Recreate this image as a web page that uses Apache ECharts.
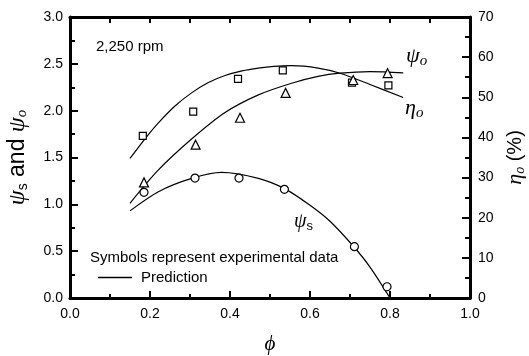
<!DOCTYPE html>
<html>
<head>
<meta charset="utf-8">
<script src="https://cdn.jsdelivr.net/npm/echarts@6/dist/echarts.min.js"></script>
<style>
  html, body { margin: 0; padding: 0; background: #fff; }
  #chart { width: 529px; height: 356px; }
</style>
</head>
<body>
<div id="chart"></div>
<script>
// predicted curves (phi, value)
const psiOPredPhi = [0.15, 0.1875, 0.221, 0.2625, 0.304, 0.346, 0.3875, 0.43, 0.471, 0.51, 0.554, 0.62, 0.675, 0.75, 0.833];
const psiOPredVal = [1.49, 1.70, 1.87, 2.05, 2.19, 2.30, 2.375, 2.425, 2.455, 2.473, 2.48, 2.455, 2.40, 2.28, 2.14];
const etaPredPhi = [0.15, 0.221, 0.304, 0.3875, 0.471, 0.554, 0.62, 0.675, 0.75, 0.833];
const etaPredVal = [23.6, 31.9, 39.6, 46.2, 50.6, 53.5, 55.2, 56.0, 56.4, 56.1];
const psiSPredPhi = [0.15, 0.221, 0.304, 0.379, 0.471, 0.5375, 0.60, 0.65, 0.708, 0.75, 0.80];
const psiSPredVal = [0.93, 1.135, 1.277, 1.341, 1.277, 1.165, 0.99, 0.82, 0.555, 0.33, 0.0];

// experimental points
const psiOExpPhi = [0.182, 0.308, 0.42, 0.532, 0.705, 0.796];
const psiOExpVal = [1.73, 1.99, 2.34, 2.43, 2.30, 2.27];
const etaExpPhi = [0.185, 0.314, 0.425, 0.539, 0.708, 0.794];
const etaExpVal = [28.8, 38.2, 44.9, 51.1, 54.3, 56.0];
const psiSExpPhi = [0.185, 0.3125, 0.4225, 0.536, 0.711, 0.7925];
const psiSExpVal = [1.128, 1.28, 1.28, 1.16, 0.548, 0.12];

const SANS = "'Liberation Sans', Arial, sans-serif";
const SERIF = "'Liberation Serif', 'DejaVu Serif', serif";

const zip = (xs, ys) => xs.map((x, i) => [x, ys[i]]);

const chart = echarts.init(document.getElementById("chart"), null, { renderer: "canvas" });

const axisLine = { show: true, onZero: false, lineStyle: { color: "#000", width: 3 } };
const tick = (len) => ({ show: true, inside: true, length: len, lineStyle: { color: "#000", width: 2 } });
const minor = (len) => ({ show: true, splitNumber: 2, length: len, lineStyle: { color: "#000", width: 2 } });
const lbl = (fmt, margin) => ({ color: "#000", fontSize: 14, fontFamily: SANS, margin, formatter: fmt });

const predLine = (phi, val, yIdx) => ({
  name: "Prediction",
  type: "line",
  yAxisIndex: yIdx,
  data: zip(phi, val),
  smooth: 0.3,
  showSymbol: false,
  symbol: "none",
  itemStyle: { color: "#000" },
  lineStyle: { color: "#000", width: 1.2 },
  z: 3,
});
const expPts = (phi, val, yIdx, symbol, size) => ({
  name: "Symbols represent experimental data",
  type: "scatter",
  yAxisIndex: yIdx,
  data: zip(phi, val),
  symbol,
  symbolSize: size,
  itemStyle: { color: "#fff", borderColor: "#000", borderWidth: 1.2, opacity: 1 },
  z: 4,
});

chart.setOption({
  animation: false,
  backgroundColor: "#fff",
  grid: { left: 70, right: 59, top: 17, bottom: 58, containLabel: false, outerBoundsMode: "none" },
  legend: [
    {
      data: [{ name: "Symbols represent experimental data", icon: "none" }],
      left: 80, top: 245, itemWidth: 0, itemHeight: 0, selectedMode: false,
      textStyle: { color: "#000", fontSize: 15, fontFamily: SANS },
    },
    {
      data: [{ name: "Prediction", icon: "rect" }],
      left: 93, top: 265, itemWidth: 34, itemHeight: 1.3, selectedMode: false,
      itemStyle: { color: "#000" },
      textStyle: { color: "#000", fontSize: 15, fontFamily: SANS, padding: [0, 0, 0, 4] },
    },
  ],
  xAxis: [
    {
      type: "value", position: "bottom", min: 0, max: 1, interval: 0.2,
      axisLine, axisTick: tick(7), minorTick: minor(4), splitLine: { show: false },
      axisLabel: lbl((v) => v.toFixed(1), 9),
      name: "ϕ", nameLocation: "middle", nameGap: 36,
      nameTextStyle: { color: "#000", fontSize: 21, fontStyle: "italic", fontFamily: SERIF },
    },
    {
      type: "value", position: "top", min: 0, max: 1, interval: 0.1,
      axisLine, axisTick: tick(6), splitLine: { show: false },
      axisLabel: { show: false },
    },
  ],
  yAxis: [
    {
      type: "value", position: "left", min: 0, max: 3, interval: 0.5,
      axisLine, axisTick: tick(8), minorTick: minor(5), splitLine: { show: false },
      axisLabel: lbl((v) => v.toFixed(1), 7),
      name: "{g|ψ}{s|s}{t| and }{g|ψ}{o|o}", nameLocation: "middle", nameGap: 40, nameRotate: 90,
      nameTextStyle: {
        color: "#000",
        rich: {
          g: { fontSize: 24, fontStyle: "italic", fontFamily: SERIF, color: "#000" },
          s: { fontSize: 14, fontFamily: SANS, color: "#000", verticalAlign: "bottom", padding: [10, 0, 0, 0] },
          o: { fontSize: 15, fontStyle: "italic", fontFamily: SERIF, color: "#000", verticalAlign: "bottom", padding: [10, 0, 0, 0] },
          t: { fontSize: 23, fontFamily: SANS, color: "#000" },
        },
      },
    },
    {
      type: "value", position: "right", min: 0, max: 70, interval: 10,
      axisLine, axisTick: tick(8), minorTick: minor(5), splitLine: { show: false },
      axisLabel: lbl((v) => String(v), 8),
      name: "{g|η}{o|o}{t| (%)}", nameLocation: "middle", nameGap: 33, nameRotate: 90,
      nameTextStyle: {
        color: "#000",
        rich: {
          g: { fontSize: 22, fontStyle: "italic", fontFamily: SERIF, color: "#000" },
          o: { fontSize: 14, fontStyle: "italic", fontFamily: SERIF, color: "#000", verticalAlign: "bottom", padding: [10, 0, 0, 0] },
          t: { fontSize: 20, fontFamily: SANS, color: "#000" },
        },
      },
    },
  ],
  graphic: [
    { type: "text", x: 96, y: 39, style: { text: "2,250 rpm", font: "15px " + SANS, fill: "#000" } },
    {
      type: "text", x: 406, y: 44,
      style: {
        text: "{g|ψ}{o|o}", fill: "#000",
        rich: {
          g: { fontSize: 22, fontStyle: "italic", fontFamily: SERIF, fill: "#000" },
          o: { fontSize: 15, fontStyle: "italic", fontFamily: SERIF, fill: "#000", verticalAlign: "bottom", padding: [10, 0, 0, 0] },
        },
      },
    },
    {
      type: "text", x: 405, y: 96,
      style: {
        text: "{g|η}{o|o}", fill: "#000",
        rich: {
          g: { fontSize: 22, fontStyle: "italic", fontFamily: SERIF, fill: "#000" },
          o: { fontSize: 15, fontStyle: "italic", fontFamily: SERIF, fill: "#000", verticalAlign: "bottom", padding: [10, 0, 0, 0] },
        },
      },
    },
    {
      type: "text", x: 294, y: 210,
      style: {
        text: "{g|ψ}{s|s}", fill: "#000",
        rich: {
          g: { fontSize: 20, fontStyle: "italic", fontFamily: SERIF, fill: "#000" },
          s: { fontSize: 13, fontFamily: SANS, fill: "#000", verticalAlign: "bottom", padding: [10, 0, 0, 0] },
        },
      },
    },
  ],
  series: [
    predLine(psiOPredPhi, psiOPredVal, 0),
    predLine(etaPredPhi, etaPredVal, 1),
    predLine(psiSPredPhi, psiSPredVal, 0),
    expPts(psiOExpPhi, psiOExpVal, 0, "rect", 7),
    expPts(etaExpPhi, etaExpVal, 1, "triangle", 9),
    expPts(psiSExpPhi, psiSExpVal, 0, "circle", 8),
  ],
});
</script>
</body>
</html>
